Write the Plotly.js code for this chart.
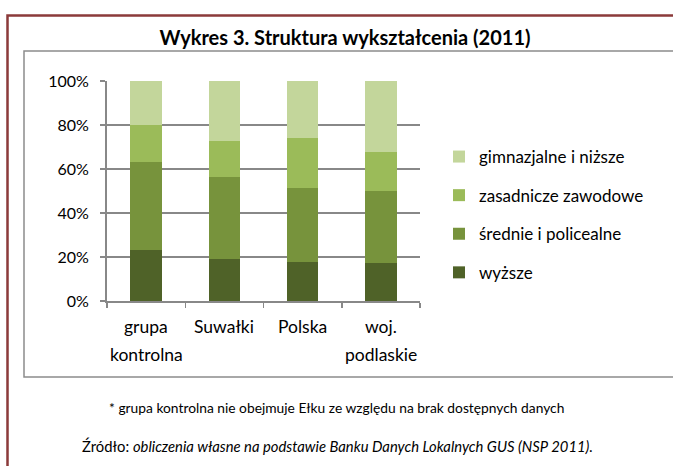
<!DOCTYPE html>
<html>
<head>
<meta charset="utf-8">
<script src="https://cdn.plot.ly/plotly-3.0.1.min.js"></script>
<style>html,body{margin:0;padding:0;background:#fff;}#chart{width:673px;height:466px;}</style>
</head>
<body>
<div id="chart"></div>
<script>
// Data
const categories = ['grupa kontrolna', 'Suwałki', 'Polska', 'woj. podlaskie'];
const labelLine1 = ['grupa', 'Suwałki', 'Polska', 'woj.'];
const labelLine2 = ['kontrolna', '', '', 'podlaskie'];
const seriesNames = ['wyższe', 'średnie i policealne', 'zasadnicze zawodowe', 'gimnazjalne i niższe'];
const wyzsze = [23.0, 19.2, 17.6, 17.4];
const srednie = [40.0, 37.3, 33.6, 32.8];
const zasadnicze = [16.8, 16.4, 22.7, 17.4];
const gimnazjalne = [20.2, 27.1, 26.1, 32.4];
const seriesValues = [wyzsze, srednie, zasadnicze, gimnazjalne];
const seriesColors = ['#4f6228', '#77933c', '#9bbb59', '#c3d69b'];

const FONT = 'Lato, "Open Sans", sans-serif';
const W = 673, H = 466;
const px = v => v / W;
const py = v => 1 - v / H;

const traces = seriesValues.map((vals, i) => ({
  type: 'bar',
  name: seriesNames[i],
  x: categories,
  y: vals,
  legendgroup: 'g' + i,
  legendrank: 10 - i,
  marker: {color: seriesColors[i], line: {width: 0}},
  hoverinfo: 'skip'
}));

const annotations = [];
categories.forEach((c, i) => {
  annotations.push({x: c, xref: 'x', y: py(326), yref: 'paper', text: labelLine1[i],
    showarrow: false, xanchor: 'center', yanchor: 'middle', font: {family: FONT, size: 17.5, color: '#000'}});
  if (labelLine2[i]) {
    annotations.push({x: c, xref: 'x', y: py(354), yref: 'paper', text: labelLine2[i],
      showarrow: false, xanchor: 'center', yanchor: 'middle', font: {family: FONT, size: 17.5, color: '#000'}});
  }
});
annotations.push({x: px(336), xref: 'paper', y: py(407), yref: 'paper',
  text: '* grupa kontrolna nie obejmuje Ełku ze względu na brak dostępnych danych',
  showarrow: false, xanchor: 'center', yanchor: 'middle', font: {family: FONT, size: 13.8, color: '#000'}});
annotations.push({x: px(337), xref: 'paper', y: py(446), yref: 'paper',
  text: 'Źródło: <i>obliczenia własne na podstawie Banku Danych Lokalnych GUS (NSP 2011).</i>',
  showarrow: false, xanchor: 'center', yanchor: 'middle', font: {family: FONT, size: 14.8, color: '#000'}});

const layout = {
  width: W, height: H,
  margin: {l: 0, r: 0, t: 0, b: 0, pad: 0},
  paper_bgcolor: '#fff', plot_bgcolor: '#fff',
  font: {family: FONT, color: '#000'},
  title: {text: '<b>Wykres 3. Struktura wykształcenia (2011)</b>', x: px(345), xanchor: 'center',
    y: py(38), yanchor: 'middle', xref: 'paper', yref: 'paper', font: {family: FONT, size: 20, color: '#000'}},
  barmode: 'stack',
  bargap: 0.6,
  showlegend: true,
  legend: {x: px(439), xanchor: 'left', y: py(139), yanchor: 'top', traceorder: 'grouped',
    tracegroupgap: 13.5, font: {family: FONT, size: 17, color: '#000'}, bgcolor: 'rgba(0,0,0,0)', itemwidth: 30},
  xaxis: {domain: [px(107), px(420)], type: 'category', range: [-0.5, 3.5], showticklabels: false,
    ticks: 'outside', tickson: 'boundaries', ticklen: 5, tickcolor: '#888', tickwidth: 1.5,
    showline: true, linecolor: '#888', linewidth: 2, showgrid: false, zeroline: false, fixedrange: true},
  yaxis: {domain: [py(301), py(81)], range: [0, 100], dtick: 20, tick0: 0, ticksuffix: '%',
    showgrid: true, gridcolor: '#888', gridwidth: 2, ticks: 'outside', ticklen: 5, tickcolor: '#888', tickwidth: 1.5,
    showline: true, linecolor: '#888', linewidth: 2, zeroline: false, ticklabelstandoff: 8,
    tickfont: {family: FONT, size: 16, color: '#000'}, fixedrange: true},
  shapes: [
    {type: 'rect', xref: 'paper', yref: 'paper', x0: px(7.5), x1: 2, y0: py(15.5), y1: -1,
      line: {color: '#8b3a3a', width: 2.5}, fillcolor: 'rgba(0,0,0,0)', layer: 'below'},
    {type: 'rect', xref: 'paper', yref: 'paper', x0: px(24), x1: 2, y0: py(51), y1: py(377),
      line: {color: '#8c8c8c', width: 1.5}, fillcolor: 'rgba(0,0,0,0)', layer: 'below'}
  ],
  annotations: annotations
};

Plotly.newPlot('chart', traces, layout, {displayModeBar: false, staticPlot: true});
</script>
</body>
</html>
